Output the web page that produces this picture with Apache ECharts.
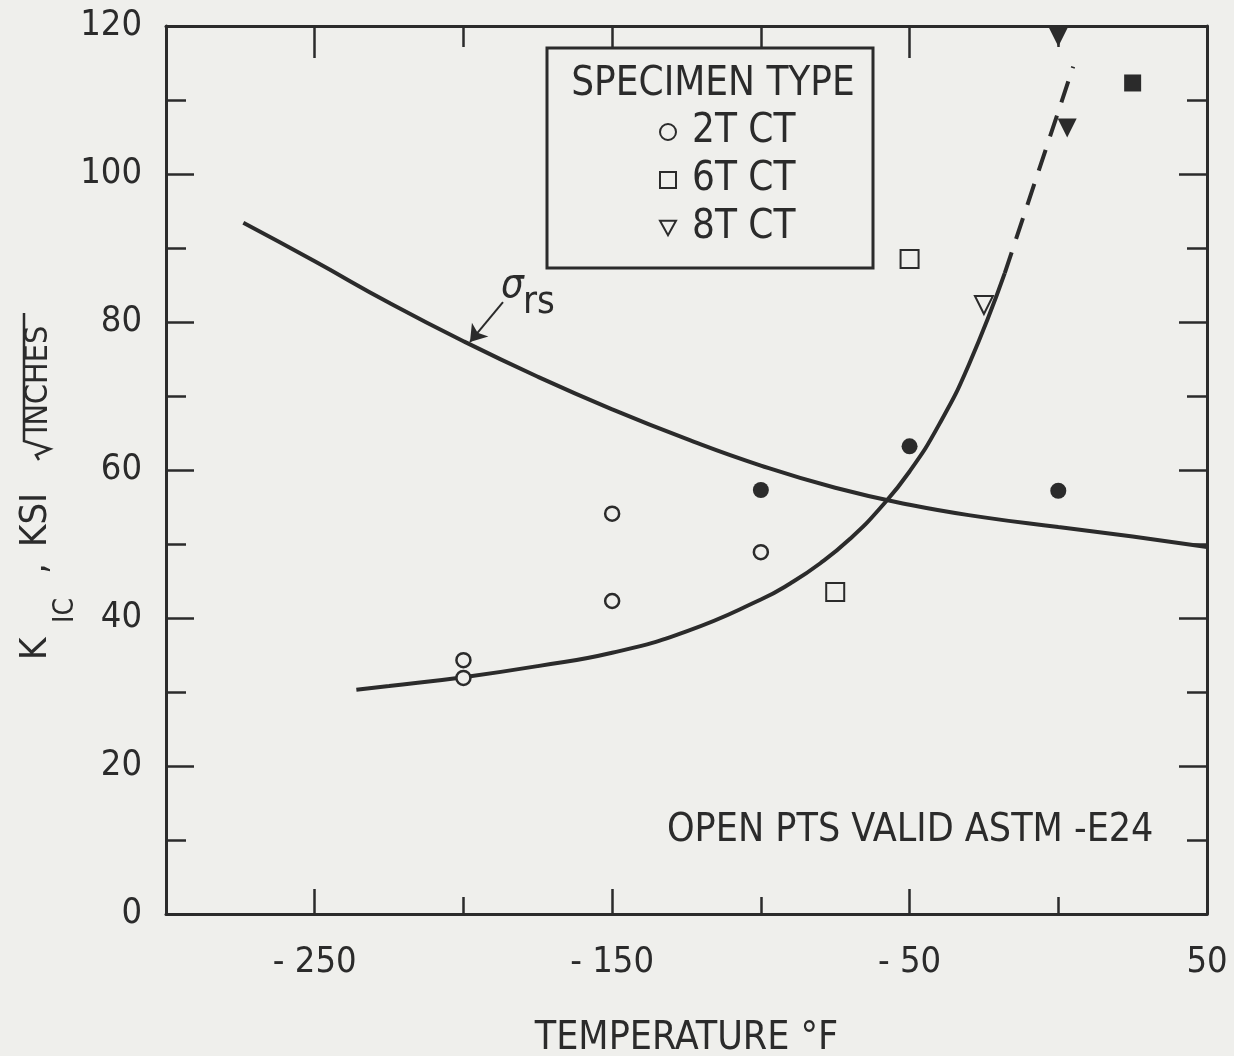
<!DOCTYPE html>
<html><head><meta charset="utf-8">
<script src="https://cdn.jsdelivr.net/npm/echarts@6/dist/echarts.min.js"></script>
<style>html,body{margin:0;padding:0;background:#efefec}#c{width:1234px;height:1056px}</style>
</head><body><div id="c"></div>
<script>
const FONT = "'Liberation Sans Narrow','Arial Narrow','DejaVu Sans Condensed',sans-serif";
const INK = '#2b2b2b';
const BG = '#efefec';

// axis ticks / labels
const xMajorTicks = [-250, -150, -50, 50];
const xMinorTicks = [-200, -100, 0];
const xTickLabels = ['- 250', '- 150', '- 50', '50'];

// specimen data (temperature °F, K_IC ksi·√in)
const specimen2T_open = [[-200, 34.3], [-200, 31.9], [-150, 54.1], [-150, 42.3], [-100, 48.9]];
const specimen2T_filled = [[-100, 57.3], [-50, 63.2], [0, 57.2]];
const specimen6T_open = [[-75, 43.5], [-50, 88.5]];
const specimen6T_filled = [[25, 112.3]];
const specimen8T_open = [[-25, 82.3]];
const specimen8T_filled = [[0, 118.5], [3, 106.2]];

// curves
const sigmaRsCurve = [[-274, 93.4], [-250, 88.2], [-225, 82.6], [-200, 77.4], [-175, 72.6], [-150, 68.2], [-125, 64.2], [-100, 60.6], [-75, 57.6], [-50, 55.3], [-25, 53.6], [0, 52.3], [25, 51.0], [50, 49.6]];
const transitionCurve = [[-236, 30.3], [-225, 30.8], [-200, 32.0], [-175, 33.5], [-150, 35.3], [-125, 38.2], [-100, 42.5], [-90, 44.7], [-80, 47.4], [-70, 50.7], [-60, 54.8], [-50, 59.8], [-40, 66.2], [-30, 74.3], [-18, 86.6]];
const transitionDashed = [[-18, 86.6], [5, 114.5]];
const sigmaArrow = [[-186.7, 82.7], [-197.8, 77.3]];

const chart = echarts.init(document.getElementById('c'), null, {renderer: 'canvas'});
const f = (s) => s + 'px ' + FONT;

function xAxisDef(pos, ticks, len, showLine, labels) {
  return {
    type: 'value', position: pos, min: -300, max: 50, interval: 50,
    axisLine: {show: showLine, onZero: false, lineStyle: {color: INK, width: 3}},
    axisTick: {show: true, inside: true, length: len, customValues: ticks, lineStyle: {color: INK, width: 2.5}},
    axisLabel: labels ? {
      show: true, customValues: xMajorTicks, margin: 31,
      formatter: (v) => xTickLabels[xMajorTicks.indexOf(v)] || '',
      fontFamily: FONT, fontSize: 36, color: INK
    } : {show: false},
    splitLine: {show: false}
  };
}
function yAxisDef(pos, labels) {
  return {
    type: 'value', position: pos, min: 0, max: 120, interval: 20,
    axisLine: {show: true, onZero: false, lineStyle: {color: INK, width: 3}},
    axisTick: {show: true, inside: true, length: 28, lineStyle: {color: INK, width: 2.5}},
    minorTick: {show: true, splitNumber: 2, length: 20, lineStyle: {color: INK, width: 2.5}},
    axisLabel: labels ? {show: true, margin: 24, fontFamily: FONT, fontSize: 36, color: INK} : {show: false},
    splitLine: {show: false}, minorSplitLine: {show: false}
  };
}

const bottomMain = xAxisDef('bottom', xMajorTicks.slice(0, 3), 25, true, true);
bottomMain.name = 'TEMPERATURE °F';
bottomMain.nameLocation = 'middle';
bottomMain.nameGap = 105;
bottomMain.nameTextStyle = {fontFamily: FONT, fontSize: 39, color: INK};

const option = {
  backgroundColor: BG,
  animation: false,
  grid: {left: 166, right: 27, top: 26, bottom: 142, containLabel: false, outerBoundsMode: 'none'},
  xAxis: [
    bottomMain,
    xAxisDef('bottom', xMinorTicks, 17, false, false),
    xAxisDef('top', xMajorTicks.slice(0, 3), 32, true, false),
    xAxisDef('top', xMinorTicks, 21, false, false)
  ],
  yAxis: [yAxisDef('left', true), yAxisDef('right', false)],
  legend: {
    show: true, orient: 'vertical', left: 654, top: 107, z: 6,
    itemWidth: 16, itemHeight: 16, itemGap: 8,
    textStyle: {fontFamily: FONT, fontSize: 40, color: INK, lineHeight: 40, padding: [0, 0, 0, 11]},
    data: [
      {name: '2T CT', icon: 'circle'},
      {name: '6T CT', icon: 'rect'},
      {name: '8T CT', icon: 'path://M0,0L10,0L5,9Z'}
    ]
  },
  series: [
    {name: 'σrs', type: 'line', data: sigmaRsCurve, smooth: true, showSymbol: false, symbol: 'none',
      lineStyle: {color: INK, width: 4}, z: 3,
      markLine: {silent: true, symbol: ['none', 'arrow'], symbolSize: 16, animation: false,
        lineStyle: {color: INK, width: 2, type: 'solid'}, label: {show: false},
        data: [[{coord: sigmaArrow[0]}, {coord: sigmaArrow[1]}]]}},
    {name: 'transition', type: 'line', data: transitionCurve, smooth: true, showSymbol: false, symbol: 'none',
      lineStyle: {color: INK, width: 4}, z: 3},
    {name: 'transition extrapolated', type: 'line', data: transitionDashed, showSymbol: false, symbol: 'none',
      lineStyle: {color: INK, width: 4, type: [22, 14]}, z: 3},
    {name: '2T CT', type: 'scatter', data: specimen2T_open, symbol: 'circle', symbolSize: 14, clip: false, z: 5,
      itemStyle: {color: BG, borderColor: INK, borderWidth: 2.5, opacity: 1}},
    {name: '2T CT invalid', type: 'scatter', data: specimen2T_filled, symbol: 'circle', symbolSize: 16, clip: false, z: 5,
      itemStyle: {color: INK, borderWidth: 0, opacity: 1}},
    {name: '6T CT', type: 'scatter', data: specimen6T_open, symbol: 'rect', symbolSize: 18, clip: false, z: 5,
      itemStyle: {color: BG, borderColor: INK, borderWidth: 2, opacity: 1}},
    {name: '6T CT invalid', type: 'scatter', data: specimen6T_filled, symbol: 'rect', symbolSize: 17, clip: false, z: 5,
      itemStyle: {color: INK, borderWidth: 0, opacity: 1}},
    {name: '8T CT', type: 'scatter', data: specimen8T_open, symbol: 'triangle', symbolRotate: 180, symbolSize: 18, clip: false, z: 5,
      itemStyle: {color: BG, borderColor: INK, borderWidth: 2, opacity: 1}},
    {name: '8T CT invalid', type: 'scatter', data: specimen8T_filled, symbol: 'triangle', symbolRotate: 180, symbolSize: 19, clip: false, z: 5,
      itemStyle: {color: INK, borderWidth: 0, opacity: 1}}
  ],
  graphic: [
    {type: 'rect', z: 3, shape: {x: 547, y: 48, width: 326, height: 220},
      style: {fill: BG, stroke: INK, lineWidth: 3}},
    {type: 'text', z: 7, style: {text: 'SPECIMEN TYPE', x: 713, y: 85, align: 'center', textAlign: 'center',
      verticalAlign: 'middle', textVerticalAlign: 'middle', font: f(40), fill: INK}},
    {type: 'text', z: 7, style: {text: 'OPEN PTS VALID ASTM -E24', x: 667, y: 831, align: 'left', textAlign: 'left',
      verticalAlign: 'middle', textVerticalAlign: 'middle', font: f(39), fill: INK}},
    {type: 'text', z: 7, style: {text: 'σ', x: 501, y: 287, align: 'left', textAlign: 'left',
      verticalAlign: 'middle', textVerticalAlign: 'middle', font: 'italic ' + f(40), fill: INK}},
    {type: 'text', z: 7, style: {text: 'rs', x: 523, y: 303, align: 'left', textAlign: 'left',
      verticalAlign: 'middle', textVerticalAlign: 'middle', font: f(38), fill: INK}},
    {type: 'group', x: 36, y: 660, rotation: Math.PI / 2, z: 7, children: [
      {type: 'text', z: 7, style: {text: 'K', x: 0, y: 0, align: 'left', textAlign: 'left', verticalAlign: 'middle', textVerticalAlign: 'middle', font: f(38), fill: INK}},
      {type: 'text', z: 7, style: {text: 'IC', x: 37, y: 30, align: 'left', textAlign: 'left', verticalAlign: 'middle', textVerticalAlign: 'middle', font: f(28), fill: INK}},
      {type: 'text', z: 7, style: {text: ',', x: 86, y: 0, align: 'left', textAlign: 'left', verticalAlign: 'middle', textVerticalAlign: 'middle', font: f(38), fill: INK}},
      {type: 'text', z: 7, style: {text: 'KSI', x: 113, y: 0, align: 'left', textAlign: 'left', verticalAlign: 'middle', textVerticalAlign: 'middle', font: f(38), fill: INK}},
      {type: 'polyline', z: 7, shape: {points: [[200, 3], [205, 0], [211, 14], [219, -12], [347, -12]]},
        style: {stroke: INK, lineWidth: 2.5, fill: null, lineJoin: 'miter'}},
      {type: 'text', z: 7, style: {text: 'INCHES', x: 226, y: 3, align: 'left', textAlign: 'left', verticalAlign: 'middle', textVerticalAlign: 'middle', font: f(32), fill: INK}}
    ]}
  ]
};
chart.setOption(option);
</script>
</body></html>
